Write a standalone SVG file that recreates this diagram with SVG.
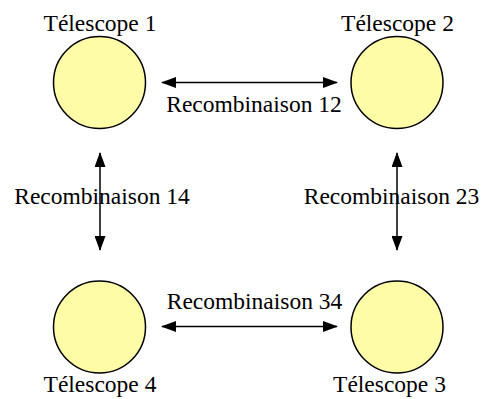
<svg xmlns="http://www.w3.org/2000/svg" width="482" height="399" viewBox="0 0 482 399">
<defs>
<marker id="ah" markerWidth="15" markerHeight="11" refX="14" refY="5.5" orient="auto-start-reverse" markerUnits="userSpaceOnUse">
<path d="M0,0 L15,5.5 L0,11 Z" fill="#000"/>
</marker>
</defs>
<style>
.tel{fill:#FFFCA8;stroke:#000;stroke-width:1.5}
.lbl{font-size:23.5px;fill:#000;text-anchor:middle}
.con{stroke:#000;stroke-width:1.5;fill:none;marker-start:url(#ah);marker-end:url(#ah)}
</style>
<rect width="482" height="399" fill="#fff"/>
<g id="connectors">
<line class="con" x1="162" y1="82.5" x2="337" y2="82.5"/>
<line class="con" x1="162" y1="326.5" x2="337" y2="326.5"/>
<line class="con" x1="100" y1="153" x2="100" y2="250"/>
<line class="con" x1="397" y1="153" x2="397" y2="250"/>
</g>
<g id="labels" font-family="'Liberation Serif', 'Times New Roman', 'DejaVu Serif', serif">
<text class="lbl" x="254" y="112">Recombinaison 12</text>
<text class="lbl" x="102" y="204">Recombinaison 14</text>
<text class="lbl" x="391.5" y="204">Recombinaison 23</text>
<text class="lbl" x="254.5" y="309">Recombinaison 34</text>
</g>
<g id="telescope1" font-family="'Liberation Serif', 'Times New Roman', 'DejaVu Serif', serif">
<circle class="tel" cx="99.5" cy="82.5" r="46"/>
<text class="lbl" x="100" y="31">Télescope 1</text>
</g>
<g id="telescope2" font-family="'Liberation Serif', 'Times New Roman', 'DejaVu Serif', serif">
<circle class="tel" cx="397" cy="82.5" r="46"/>
<text class="lbl" x="397.5" y="31">Télescope 2</text>
</g>
<g id="telescope3" font-family="'Liberation Serif', 'Times New Roman', 'DejaVu Serif', serif">
<circle class="tel" cx="397" cy="327" r="46"/>
<text class="lbl" x="389.5" y="392">Télescope 3</text>
</g>
<g id="telescope4" font-family="'Liberation Serif', 'Times New Roman', 'DejaVu Serif', serif">
<circle class="tel" cx="99.5" cy="327" r="46"/>
<text class="lbl" x="100" y="392">Télescope 4</text>
</g>
</svg>
